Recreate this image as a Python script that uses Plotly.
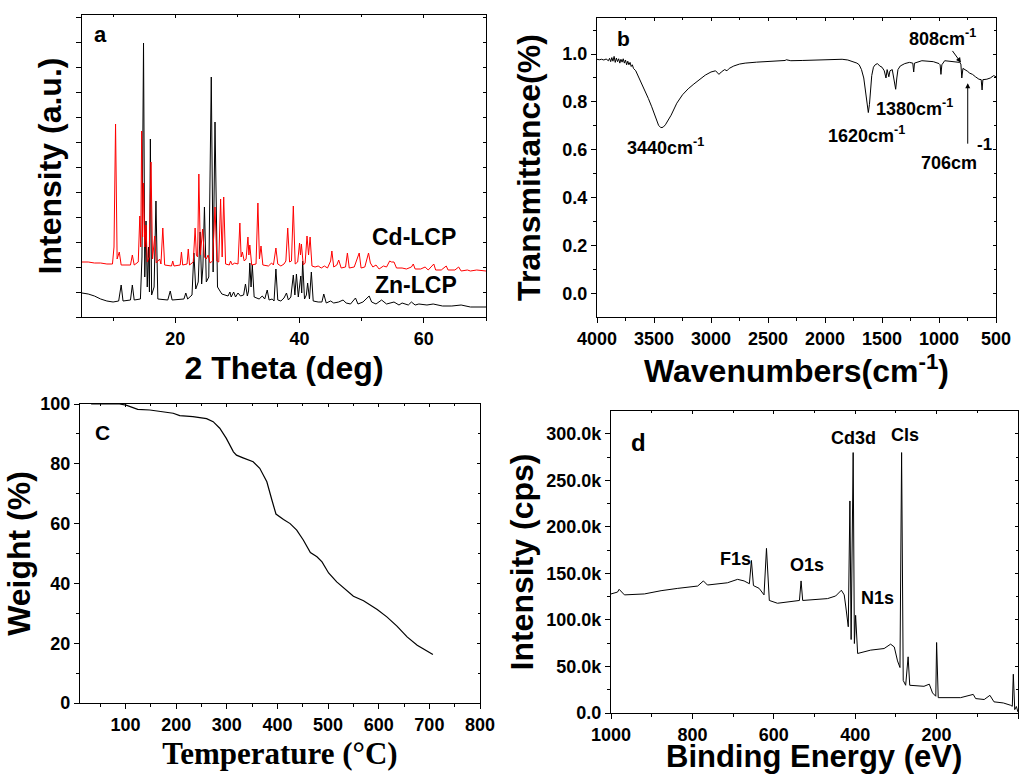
import plotly.graph_objects as go

# ---------------- data ----------------
# (a) PXRD, 2theta (deg) vs arbitrary intensity
ZN_LCP = [(5,24),(6,23),(7,21),(8,18),(9,16),(10,15),(10.9,16),(11.3,32),(11.6,16),(12.8,17),(13.1,32),(13.4,17),
          (14.4,18),(14.65,60),(14.9,274),(15.1,40),(15.3,96),(15.5,30),(15.7,70),(15.85,25),(16.0,178),(16.2,22),
          (16.6,30),(16.9,116),(17.2,18),(18.8,17),(19.2,26),(19.5,17),(21.4,18),(21.7,24),(22.0,18),(22.7,22),
          (23.0,64),(23.3,28),(23.7,35),(24.0,85),(24.25,33),(24.45,50),(24.7,110),(25.0,35),(25.4,40),(25.8,240),
          (26.1,45),(26.4,195),(26.8,30),(27.5,23),(28.5,21),(28.8,25),(29.0,20),(29.4,25),(29.7,20),(30.1,24),
          (30.5,21),(31.0,22),(31.3,33),(31.6,21),(31.8,26),(32.0,54),(32.2,30),(32.4,52),(32.7,20),(33.5,18),
          (34.0,21),(34.4,18),(34.8,27),(35.1,17),(35.6,18),(35.9,16),(36.2,48),(36.5,17),(37.0,16),(37.5,19),
          (37.9,24),(38.2,17),(38.6,20),(39.0,42),(39.25,22),(39.5,43),(39.8,20),(40.0,30),(40.2,41),(40.35,24),
          (40.5,56),(40.8,18),(41.1,22),(41.3,34),(41.6,18),(41.9,45),(42.2,16),(43.0,15),(43.6,15),(43.9,23),
          (44.3,14),(45.0,16),(45.5,14),(46.3,15),(47.0,17),(47.5,14),(48.2,13),(49.0,19),(49.4,13),(50.2,15),
          (50.8,19),(51.2,21),(51.6,15),(52.3,13),(53.2,17),(54.0,13),(55.2,15),(56.0,12),(56.5,14),(57.5,12),
          (58.0,15),(58.6,12),(59.2,13),(60.5,12),(61.5,13),(63.0,11),(64.5,11),(66.0,12),(67.5,10),(69.0,10),(70.0,10)]
CD_LCP = [(5,55),(6,55),(7,54),(8,54),(9,53),(9.9,53),(10.15,70),(10.4,193),(10.65,58),(11.0,65),(11.3,52),(12.8,52),
          (13.1,62),(13.4,52),(14.05,55),(14.3,101),(14.45,70),(14.6,186),(14.75,80),(14.9,134),(15.1,70),(15.3,92),
          (15.5,55),(15.8,60),(16.1,155),(16.35,58),(16.7,81),(16.95,54),(17.5,58),(17.7,53),(18.0,89),(18.3,52),
          (19.4,51),(19.6,56),(19.8,51),(20.8,52),(21.0,65),(21.2,52),(21.9,53),(22.1,68),(22.3,52),(22.9,55),
          (23.2,89),(23.4,62),(23.6,60),(23.8,143),(24.05,62),(24.4,88),(24.7,60),(25.0,58),(25.3,62),(25.6,54),
          (26.0,56),(26.4,110),(26.7,56),(27.0,55),(27.3,118),(27.55,60),(27.8,120),(28.1,53),(28.7,52),(28.9,56),
          (29.2,52),(29.5,54),(30.1,53),(30.4,94),(30.6,60),(30.8,65),(31.1,56),(31.4,58),(31.7,80),(31.85,62),
          (32.0,72),(32.3,52),(33.0,53),(33.3,114),(33.55,58),(33.8,71),(34.1,52),(35.0,51),(35.5,54),(35.8,52),
          (36.2,69),(36.5,53),(37.0,51),(37.5,53),(37.8,56),(38.1,89),(38.4,55),(38.7,56),(39.0,111),(39.3,53),
          (39.7,55),(40.0,74),(40.15,62),(40.3,73),(40.6,52),(40.9,54),(41.2,81),(41.45,62),(41.7,80),(42.0,51),
          (42.5,50),(43.0,51),(43.5,49),(44.0,51),(44.5,49),(45.0,56),(45.2,66),(45.5,50),(46.0,52),(46.3,57),
          (46.7,49),(47.4,50),(47.7,64),(48.0,49),(48.8,50),(49.6,64),(49.9,49),(50.5,50),(51.1,64),(51.4,54),
          (51.8,50),(52.3,52),(52.8,48),(53.5,51),(54.0,50),(54.5,56),(54.8,55),(55.2,55),(55.6,49),(56.5,49),
          (57.2,48),(58.0,50),(58.3,53),(58.6,48),(59.5,48),(60.2,50),(60.7,47),(61.6,53),(61.9,47),(62.8,47),
          (63.6,51),(63.9,47),(65.0,47),(65.6,50),(66.0,46),(67.0,47),(67.5,46),(68.5,47),(70.0,46)]

# (b) FT-IR, wavenumber (cm-1) vs transmittance
IR = [(4000,0.978),(3980,0.976),(3960,0.978),(3940,0.975),(3920,0.979),(3900,0.972),(3890,0.982),(3880,0.968),
      (3870,0.985),(3860,0.97),(3850,0.99),(3840,0.965),(3830,0.983),(3820,0.968),(3810,0.98),(3800,0.962),
      (3790,0.978),(3780,0.966),(3770,0.98),(3760,0.962),(3750,0.975),(3740,0.955),(3730,0.97),(3720,0.955),
      (3710,0.965),(3700,0.948),(3690,0.955),(3680,0.94),(3660,0.93),(3640,0.91),(3620,0.89),(3600,0.87),
      (3580,0.85),(3550,0.815),(3520,0.78),(3500,0.755),(3480,0.725),(3460,0.703),(3440,0.693),(3420,0.695),
      (3400,0.705),(3380,0.72),(3350,0.745),(3320,0.775),(3300,0.795),(3250,0.83),(3200,0.855),(3150,0.875),
      (3100,0.895),(3050,0.912),(3000,0.925),(2960,0.93),(2930,0.915),(2910,0.925),(2880,0.935),(2860,0.93),
      (2840,0.94),(2800,0.95),(2750,0.958),(2700,0.962),(2600,0.966),(2500,0.968),(2400,0.97),(2350,0.973),
      (2340,0.976),(2300,0.972),(2200,0.973),(2100,0.974),(2000,0.975),(1900,0.976),(1850,0.978),(1800,0.975),
      (1760,0.97),(1720,0.962),(1700,0.955),(1680,0.935),(1660,0.9),(1645,0.85),(1630,0.79),(1620,0.756),
      (1610,0.79),(1600,0.86),(1590,0.91),(1575,0.945),(1560,0.955),(1540,0.96),(1520,0.95),(1500,0.945),
      (1480,0.93),(1465,0.9),(1455,0.935),(1440,0.905),(1430,0.93),(1410,0.935),(1395,0.9),(1380,0.853),
      (1370,0.9),(1360,0.935),(1340,0.95),(1300,0.96),(1260,0.965),(1230,0.962),(1222,0.925),(1215,0.962),
      (1150,0.972),(1100,0.97),(1050,0.968),(1000,0.96),(990,0.955),(983,0.915),(975,0.955),(950,0.972),
      (900,0.97),(850,0.968),(820,0.965),(808,0.958),(800,0.9),(790,0.94),(770,0.935),(750,0.928),(730,0.92),
      (706,0.915),(680,0.905),(650,0.895),(630,0.893),(622,0.85),(615,0.893),(580,0.895),(550,0.9),(520,0.91),
      (500,0.905)]

# (c) TGA, temperature (C) vs weight (%)
TGA = [(32,100),(88,100),(101,99.6),(124,98.2),(148,98),(174,97.5),(194,96.9),(207,96.1),(233,95.8),(260,95.1),
       (273,94.1),(286,91.9),(299,88.5),(313,84),(319,82.9),(332,82),(352,80.7),(365,78.5),(379,74),(389,67.9),
       (397,63.2),(412,61.4),(425,60),(438,57.8),(451,54.5),(465,50.3),(478,48.9),(488,47.2),(501,43.5),
       (517,40.5),(537,37.5),(550,35.7),(570,34.2),(597,31.3),(616,28.8),(636,25.7),(656,22.1),(676,19.3),(707,16.2)]

# (d) XPS survey, binding energy (eV) vs intensity (k cps)
XPS = [(1000,128),(984,130),(980,133),(967,127),(918,128),(877,131.5),(836,134),(787,136.5),(773,142),(763,137.6),
       (714,140),(689,143.7),(673,142),(660,139),(655,164),(650,137),(636,134),(624,127),(618,177),(611,121),
       (591,118),(550,120.7),(537,121),(533,142),(529,121),(468,123),(448,125.8),(434,132),(427,127),(423,114),
       (417,92.7),(413,228),(410,79),(405,280),(402,74.7),(399,105),(394,64),(362,67.6),(329,69.3),(313,74),
       (304,71),(296,56),(290,48.9),(286,280),(282,35),(276,29.8),(270,60.4),(266,29.8),(231,28.7),(218,31),
       (210,21.6),(202,18),(200,75.8),(196,16.5),(141,16.5),(110,20),(104,15.5),(83,14.5),(69,19),(59,12),
       (36,10.8),(18,8.3),(14,7.2),(11.5,41.7),(8,3.6),(4,7),(0,1)]

XPS_TICKVALS = [0, 50, 100, 150, 200, 250, 300]
XPS_TICKTEXT = ["0.0", "50.0k", "100.0k", "150.0k", "200.0k", "250.0k", "300.0k"]

def unzip(pts):
    return [p[0] for p in pts], [p[1] for p in pts]

# ---------------- figure ----------------
W, H = 1022, 776
fig = go.Figure()

zx, zy = unzip(ZN_LCP)
cx, cy = unzip(CD_LCP)
ix, iy = unzip(IR)
tx, ty = unzip(TGA)
px_, py_ = unzip(XPS)

fig.add_trace(go.Scatter(x=zx, y=zy, mode="lines", line=dict(color="black", width=1), xaxis="x", yaxis="y", name="Zn-LCP"))
fig.add_trace(go.Scatter(x=cx, y=cy, mode="lines", line=dict(color="#ff0000", width=1), xaxis="x", yaxis="y", name="Cd-LCP"))
fig.add_trace(go.Scatter(x=ix, y=iy, mode="lines", line=dict(color="black", width=1), xaxis="x2", yaxis="y2", name="IR"))
fig.add_trace(go.Scatter(x=tx, y=ty, mode="lines", line=dict(color="black", width=1.2), xaxis="x3", yaxis="y3", name="TGA"))
fig.add_trace(go.Scatter(x=px_, y=py_, mode="lines", line=dict(color="black", width=1), xaxis="x4", yaxis="y4", name="XPS"))

def pxdom(a, b):
    return [a / W, b / W]

def pydom(top, bottom):
    return [1 - bottom / H, 1 - top / H]

TICKF = dict(family="Arial", size=18, color="black", weight="bold")
TITF = dict(family="Arial", size=32, color="black", weight="bold")

def axis(dom, anchor, rng, dtick=None, minor=None, title=None, titlefont=TITF, standoff=8,
         showlabels=True, tickvals=None, ticktext=None, tick0=None):
    d = dict(domain=dom, anchor=anchor, range=rng, showline=True, linecolor="black", linewidth=1.3,
             mirror=True, ticks="outside", ticklen=5, tickwidth=1.2, tickcolor="black", automargin=False,
             showgrid=False, zeroline=False, tickfont=TICKF, showticklabels=showlabels)
    if tickvals is not None:
        d.update(tickmode="array", tickvals=tickvals, ticktext=ticktext)
    elif dtick is not None:
        d.update(tickmode="linear", dtick=dtick)
        if tick0 is not None:
            d.update(tick0=tick0)
    if minor is not None:
        d["minor"] = dict(dtick=minor, ticks="outside", ticklen=3, tickcolor="black", tickwidth=1)
    if title is not None:
        d["title"] = dict(text=title, font=titlefont, standoff=standoff)
    return d

def mirror_axis(base, anchor, side, src):
    """Inward ticks on the opposite (top/right) frame edge."""
    d = dict(overlaying=base, anchor=anchor, side=side, range=src["range"], showline=False,
             ticks="inside", ticklen=3, tickwidth=1, tickcolor="black", showticklabels=False,
             showgrid=False, zeroline=False, automargin=False)
    for k in ("tickmode", "dtick", "tick0", "tickvals"):
        if k in src:
            d[k] = src[k]
    if "minor" in src:
        d["minor"] = dict(dtick=src["minor"]["dtick"], ticks="inside", ticklen=2, tickcolor="black", tickwidth=1)
    return d

layout = dict(width=W, height=H, margin=dict(l=0, r=0, t=0, b=0, autoexpand=False), showlegend=False,
              paper_bgcolor="white", plot_bgcolor="white")

# panel a
layout["xaxis"] = axis(pxdom(82, 486), "y", [5, 70], dtick=20, minor=10, title="2 Theta (deg)", standoff=8)
layout["yaxis"] = axis(pydom(15, 317), "x", [0, 302], dtick=25, tick0=0, showlabels=False,
                       title="Intensity (a.u.)", standoff=4)
# panel b
layout["xaxis2"] = axis(pxdom(597, 996), "y2", [4000, 500], dtick=500, minor=250,
                        title="Wavenumbers(cm<sup>-1</sup>)", standoff=4)
layout["yaxis2"] = axis(pydom(18, 317), "x2", [-0.096, 1.15], dtick=0.2, tick0=0, minor=0.1,
                        title="Transmittance(%)", standoff=12)
layout["yaxis2"]["tickformat"] = ".1f"
# panel c
layout["xaxis3"] = axis(pxdom(80, 480), "y3", [10, 800], dtick=100, tick0=0, minor=50,
                        title="Temperature (°C)", titlefont=dict(family="Times New Roman", size=31, color="black", weight="bold"),
                        standoff=8)
layout["yaxis3"] = axis(pydom(404, 703), "x3", [0, 100], dtick=20, minor=10, title="Weight (%)", standoff=0)
# panel d (x title drawn as an annotation so it can sit on the bottom edge like the original)
layout["xaxis4"] = axis(pxdom(611, 1018), "y4", [1000, 0], dtick=200, minor=100)
layout["yaxis4"] = axis(pydom(411, 713), "x4", [0, 324.7], tickvals=XPS_TICKVALS, ticktext=XPS_TICKTEXT,
                        minor=25, title="Intensity (cps)", standoff=2)

# mirrored inward ticks on top and right edges
for i in range(1, 5):
    sx = "" if i == 1 else str(i)
    xa, ya = layout["xaxis" + sx], layout["yaxis" + sx]
    layout[f"xaxis{i + 4}"] = mirror_axis("x" + sx, "y" + sx, "top", xa)
    layout[f"yaxis{i + 4}"] = mirror_axis("y" + sx, "x" + sx, "right", ya)
    fig.add_trace(go.Scatter(x=[None], y=[None], mode="lines", xaxis=f"x{i + 4}", yaxis=f"y{i + 4}",
                             hoverinfo="skip", showlegend=False))

fig.update_layout(**layout)

def ann(text, x, y, xref, yref, size=18, **kw):
    fig.add_annotation(text=text, x=x, y=y, xref=xref, yref=yref, showarrow=False,
                       xanchor="center", yanchor="middle",
                       font=dict(family="Arial", size=size, color="black", weight="bold"), **kw)

# panel letters (paper coords)
ann("a", 100 / W, 1 - 35 / H, "paper", "paper", size=22)
ann("b", 623 / W, 1 - 38 / H, "paper", "paper", size=21)
ann("C", 102 / W, 1 - 432 / H, "paper", "paper", size=21)
ann("d", 638 / W, 1 - 442 / H, "paper", "paper", size=24)

# panel d x-axis title
ann("Binding Energy (eV)", 814 / W, 1 - 756 / H, "paper", "paper", size=31)

# panel a labels
ann("Cd-LCP", 58.4, 80, "x", "y", size=23)
ann("Zn-LCP", 58.7, 32, "x", "y", size=23)

# panel b labels
ann("3440cm<sup>-1</sup>", 3395, 0.6125, "x2", "y2")
ann("1620cm<sup>-1</sup>", 1640, 0.6625, "x2", "y2")
ann("1380cm<sup>-1</sup>", 1219, 0.775, "x2", "y2")
ann("706cm", 912, 0.546, "x2", "y2")
ann("-1", 602, 0.622, "x2", "y2", size=17)
fig.add_annotation(text="808cm<sup>-1</sup>", x=807, y=0.964, ax=965, ay=1.067, xref="x2", yref="y2",
                   axref="x2", ayref="y2", showarrow=True, arrowhead=2, arrowsize=1, arrowwidth=1,
                   arrowcolor="black", font=dict(family="Arial", size=18, color="black", weight="bold"))
fig.add_annotation(x=748, y=0.878, ax=748, ay=0.62, xref="x2", yref="y2", axref="x2", ayref="y2",
                   showarrow=True, arrowhead=2, arrowsize=1, arrowwidth=1, arrowcolor="black", text="")

# panel d labels
ann("Cd3d", 403, 296, "x4", "y4")
ann("Cls", 278, 299, "x4", "y4")
ann("F1s", 695, 165.6, "x4", "y4")
ann("O1s", 518, 159, "x4", "y4")
ann("N1s", 344, 123.7, "x4", "y4")

fig.write_html("out.html")
